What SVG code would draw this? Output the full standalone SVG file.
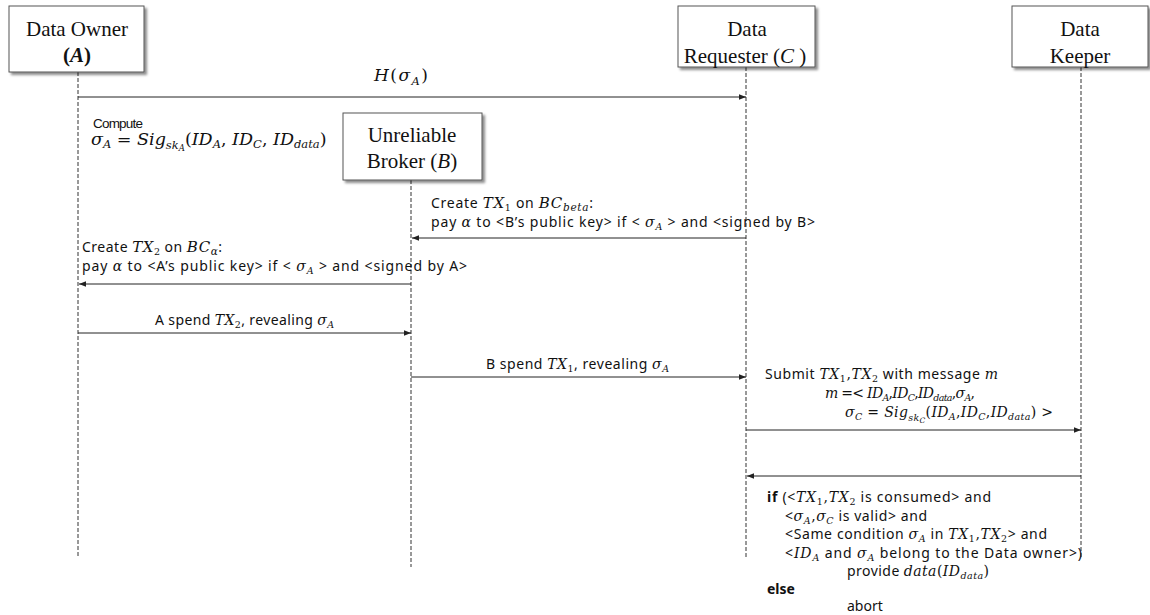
<svg xmlns="http://www.w3.org/2000/svg" width="1150" height="615" viewBox="0 0 1150 615">
<style>
.box{fill:#fff;stroke:#555;stroke-width:1;filter:url(#sh)}
.lbl{font-family:"Liberation Serif","Times New Roman",serif;font-size:21px;fill:#111;text-anchor:middle}
.life{stroke:#333;stroke-width:1;stroke-dasharray:4 2;fill:none}
.msg{stroke:#222;stroke-width:1;fill:none;marker-end:url(#ah)}
.t{font-family:"Noto Sans","Liberation Sans",Arial,sans-serif;font-size:14px;fill:#111}
.a{font-family:"Liberation Sans",Arial,sans-serif;font-size:13.5px;fill:#111}
.m{font-family:"DejaVu Serif","Liberation Serif",serif;font-style:italic;font-size:14px}
.mu{font-family:"DejaVu Serif","Liberation Serif",serif;font-style:normal;font-size:14px}
.s{font-family:"DejaVu Serif","Liberation Serif",serif;font-style:italic;font-size:9.5px}
.su{font-family:"DejaVu Serif","Liberation Serif",serif;font-style:normal;font-size:9.5px}
.ss{font-family:"DejaVu Serif","Liberation Serif",serif;font-style:italic;font-size:7.5px}
.big .m,.big .mu{font-size:17.5px}
.big .s{font-size:11.5px}
.big .ss{font-size:8.5px}
.hh .m,.hh .mu{font-size:17px}
.hh .s{font-size:11.5px}
.mid .m{font-size:15px}
.mid .s{font-size:10.5px}
</style>
<defs>
<filter id="sh" x="-10%" y="-10%" width="130%" height="140%">
<feDropShadow dx="2.5" dy="2.5" stdDeviation="1.2" flood-color="#000" flood-opacity="0.45"/>
</filter>
<marker id="ah" viewBox="0 0 10 10" refX="10" refY="5" markerWidth="7" markerHeight="7" markerUnits="userSpaceOnUse" orient="auto">
<path d="M0,1 L10,5 L0,9 z" fill="#222"/>
</marker>
</defs>

<g id="lifelines">
<line class="life" x1="78" y1="72" x2="78" y2="557"/>
<line class="life" x1="746" y1="67" x2="746" y2="558"/>
<line class="life" x1="1081" y1="67" x2="1081" y2="558"/>
<line class="life" x1="411" y1="180" x2="411" y2="567"/>
</g>

<g id="owner">
<rect class="box" x="9" y="6" width="135" height="66"/>
<text class="lbl" x="77" y="36">Data Owner</text>
<text class="lbl" x="77" y="62" font-weight="bold">(<tspan font-style="italic">A</tspan>)</text>
</g>

<g id="requester">
<rect class="box" x="678" y="6" width="137" height="61"/>
<text class="lbl" x="747" y="36">Data</text>
<text class="lbl" x="745" y="63">Requester (<tspan font-style="italic">C</tspan> )</text>
</g>

<g id="keeper">
<rect class="box" x="1012" y="6" width="136" height="61"/>
<text class="lbl" x="1080" y="36">Data</text>
<text class="lbl" x="1080" y="63">Keeper</text>
</g>

<g id="broker">
<rect class="box" x="343" y="113" width="139" height="67"/>
<text class="lbl" x="412" y="142">Unreliable</text>
<text class="lbl" x="412" y="168">Broker (<tspan font-style="italic">B</tspan>)</text>
</g>

<g id="connectors">
<line class="msg" x1="78" y1="97" x2="746" y2="97"/>
<line class="msg" x1="746" y1="238" x2="412" y2="238"/>
<line class="msg" x1="411" y1="284" x2="79" y2="284"/>
<line class="msg" x1="78" y1="333" x2="411" y2="333"/>
<line class="msg" x1="411" y1="377" x2="746" y2="377"/>
<line class="msg" x1="746" y1="430" x2="1081" y2="430"/>
<line class="msg" x1="1081" y1="476" x2="747" y2="476"/>
</g>

<g id="labels">
<text class="t hh" x="374" y="81" textLength="54"><tspan class="m">H</tspan><tspan class="mu">(</tspan><tspan class="m">σ</tspan><tspan class="s" dy="4">A</tspan><tspan class="mu" dy="-4">)</tspan></text>

<text class="a" x="93" y="128" textLength="50">Compute</text>
<text class="t big" x="91" y="145"><tspan class="m">σ</tspan><tspan class="s" dy="3">A</tspan><tspan class="mu" dy="-3"> = </tspan><tspan class="m">Sig</tspan><tspan class="s" dy="4">sk</tspan><tspan class="ss" dy="2">A</tspan><tspan class="mu" dy="-6">(</tspan><tspan class="m">ID</tspan><tspan class="s" dy="3">A</tspan><tspan class="mu" dy="-3">, </tspan><tspan class="m">ID</tspan><tspan class="s" dy="3">C</tspan><tspan class="mu" dy="-3">, </tspan><tspan class="m">ID</tspan><tspan class="s" dy="3">data</tspan><tspan class="mu" dy="-3">)</tspan></text>

<text class="t mid" x="431" y="208" textLength="162">Create <tspan class="m">TX</tspan><tspan class="su" dy="3">1</tspan><tspan dy="-3"> on </tspan><tspan class="m">BC</tspan><tspan class="s" dy="3">beta</tspan><tspan dy="-3">:</tspan></text>
<text class="t" x="431" y="227" textLength="384">pay <tspan class="m">α</tspan> to &lt;B’s public key&gt; if &lt; <tspan class="m">σ</tspan><tspan class="s" dy="3">A</tspan><tspan dy="-3"> &gt; and &lt;signed by B&gt;</tspan></text>

<text class="t mid" x="82" y="252" textLength="140">Create <tspan class="m">TX</tspan><tspan class="su" dy="3">2</tspan><tspan dy="-3"> on </tspan><tspan class="m">BC</tspan><tspan class="s" dy="3">α</tspan><tspan dy="-3">:</tspan></text>
<text class="t" x="82" y="271" textLength="385">pay <tspan class="m">α</tspan> to &lt;A’s public key&gt; if &lt; <tspan class="m">σ</tspan><tspan class="s" dy="3">A</tspan><tspan dy="-3"> &gt; and &lt;signed by A&gt;</tspan></text>

<text class="t" x="155" y="325" textLength="179">A spend <tspan class="m">TX</tspan><tspan class="su" dy="3">2</tspan><tspan dy="-3">, revealing </tspan><tspan class="m">σ</tspan><tspan class="s" dy="3">A</tspan></text>

<text class="t" x="486" y="369" textLength="183">B spend <tspan class="m">TX</tspan><tspan class="su" dy="3">1</tspan><tspan dy="-3">, revealing </tspan><tspan class="m">σ</tspan><tspan class="s" dy="3">A</tspan></text>

<text class="t" x="765" y="379" textLength="233">Submit <tspan class="m">TX</tspan><tspan class="su" dy="3">1</tspan><tspan class="mu" dy="-3">,</tspan><tspan class="m">TX</tspan><tspan class="su" dy="3">2</tspan><tspan dy="-3">  with message </tspan><tspan class="m">m</tspan></text>
<text class="t" x="825" y="398" textLength="150"><tspan class="m">m</tspan><tspan class="mu"> =&lt; </tspan><tspan class="m">ID</tspan><tspan class="s" dy="3">A</tspan><tspan class="mu" dy="-3">,</tspan><tspan class="m">ID</tspan><tspan class="s" dy="3">C</tspan><tspan class="mu" dy="-3">,</tspan><tspan class="m">ID</tspan><tspan class="s" dy="3">data</tspan><tspan class="mu" dy="-3">,</tspan><tspan class="m">σ</tspan><tspan class="s" dy="3">A</tspan><tspan class="mu" dy="-3">,</tspan></text>
<text class="t" x="845" y="417" textLength="208"><tspan class="m">σ</tspan><tspan class="s" dy="3">C</tspan><tspan class="mu" dy="-3"> = </tspan><tspan class="m">Sig</tspan><tspan class="s" dy="4">sk</tspan><tspan class="ss" dy="2">C</tspan><tspan class="mu" dy="-6">(</tspan><tspan class="m">ID</tspan><tspan class="s" dy="3">A</tspan><tspan class="mu" dy="-3">,</tspan><tspan class="m">ID</tspan><tspan class="s" dy="3">C</tspan><tspan class="mu" dy="-3">,</tspan><tspan class="m">ID</tspan><tspan class="s" dy="3">data</tspan><tspan class="mu" dy="-3">) &gt;</tspan></text>

<text class="t" x="767" y="502" textLength="224"><tspan font-weight="bold">if</tspan> (&lt;<tspan class="m">TX</tspan><tspan class="su" dy="3">1</tspan><tspan class="mu" dy="-3">,</tspan><tspan class="m">TX</tspan><tspan class="su" dy="3">2</tspan><tspan dy="-3"> is consumed&gt; and</tspan></text>
<text class="t" x="785" y="521" textLength="142">&lt;<tspan class="m">σ</tspan><tspan class="s" dy="3">A</tspan><tspan class="mu" dy="-3">,</tspan><tspan class="m">σ</tspan><tspan class="s" dy="3">C</tspan><tspan dy="-3">  is valid&gt; and</tspan></text>
<text class="t" x="785" y="539" textLength="262">&lt;Same condition <tspan class="m">σ</tspan><tspan class="s" dy="3">A</tspan><tspan dy="-3"> in </tspan><tspan class="m">TX</tspan><tspan class="su" dy="3">1</tspan><tspan class="mu" dy="-3">,</tspan><tspan class="m">TX</tspan><tspan class="su" dy="3">2</tspan><tspan dy="-3">&gt; and</tspan></text>
<text class="t" x="785" y="558" textLength="297">&lt;<tspan class="m">ID</tspan><tspan class="s" dy="3">A</tspan><tspan dy="-3"> and </tspan><tspan class="m">σ</tspan><tspan class="s" dy="3">A</tspan><tspan dy="-3"> belong to the Data owner&gt;)</tspan></text>
<text class="t" x="847" y="576" textLength="142">provide <tspan class="m">data</tspan><tspan class="mu">(</tspan><tspan class="m">ID</tspan><tspan class="s" dy="3">data</tspan><tspan class="mu" dy="-3">)</tspan></text>
<text class="t" x="767" y="594" font-weight="bold">else</text>
<text class="t" x="847" y="611">abort</text>
</g>
</svg>
